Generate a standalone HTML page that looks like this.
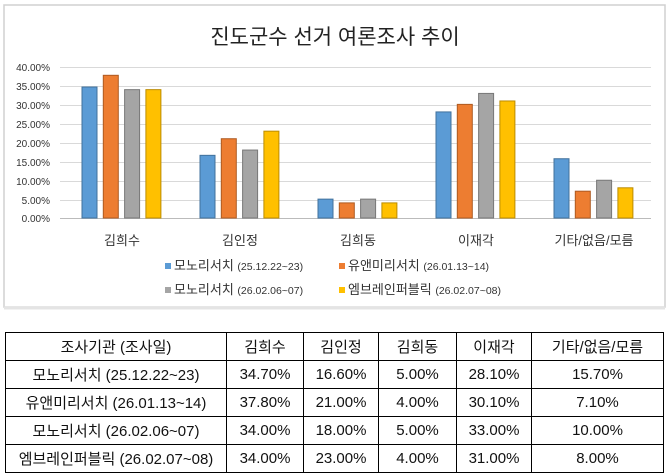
<!DOCTYPE html>
<html><head><meta charset="utf-8"><style>
body{margin:0;width:670px;height:473px;background:#fff;overflow:hidden;font-family:"Liberation Sans","Noto Sans CJK KR",sans-serif;}
table{position:absolute;left:5px;top:332px;border-collapse:collapse;font-size:15px;color:#111;}
td{border:1px solid #000;text-align:center;padding:0;height:27px;}
</style></head><body>
<svg width="670" height="473" style="position:absolute;left:0;top:0">
<rect x="4" y="5" width="661" height="302" fill="#fff" stroke="#d0d0d0" stroke-width="1.5"/>
<line x1="4" y1="308" x2="665" y2="308" stroke="#e4e4e4" stroke-width="3"/>
<text x="335" y="44" font-size="21" text-anchor="middle" fill="#222" font-family="Liberation Sans,Noto Sans CJK KR,sans-serif">진도군수 선거 여론조사 추이</text>
<g stroke="#d9d9d9" stroke-width="1">
<line x1="60" x2="651" y1="67.5" y2="67.5"/><line x1="60" x2="651" y1="86.5" y2="86.5"/><line x1="60" x2="651" y1="105.5" y2="105.5"/><line x1="60" x2="651" y1="124.5" y2="124.5"/><line x1="60" x2="651" y1="143.5" y2="143.5"/><line x1="60" x2="651" y1="162.5" y2="162.5"/><line x1="60" x2="651" y1="181.5" y2="181.5"/><line x1="60" x2="651" y1="200.5" y2="200.5"/><line x1="60" x2="651" y1="218.5" y2="218.5" stroke="#bbb"/>
</g>
<g font-size="10" fill="#333" text-anchor="end" font-family="Liberation Sans,sans-serif">
<text x="50" y="71">40.00%</text><text x="50" y="90">35.00%</text><text x="50" y="109">30.00%</text><text x="50" y="128">25.00%</text><text x="50" y="147">20.00%</text><text x="50" y="166">15.00%</text><text x="50" y="185">10.00%</text><text x="50" y="204">5.00%</text><text x="50" y="222">0.00%</text>
</g>
<g id="bars"></g>
<g font-size="13" fill="#333" text-anchor="middle" font-family="Liberation Sans,Noto Sans CJK KR,sans-serif">
<text x="122" y="245">김희수</text><text x="240" y="245">김인정</text><text x="358" y="245">김희동</text><text x="476" y="245">이재각</text><text x="594" y="245">기타/없음/모름</text>
</g>
<g font-size="13" fill="#333" font-family="Liberation Sans,Noto Sans CJK KR,sans-serif">
<rect x="165" y="263" width="6" height="6" fill="#5b9bd5"/><text x="174" y="270">모노리서치 <tspan font-size="10.5">(25.12.22~23)</tspan></text>
<rect x="339" y="263" width="6" height="6" fill="#ed7d31"/><text x="348" y="270">유앤미리서치 <tspan font-size="10.5">(26.01.13~14)</tspan></text>
<rect x="165" y="287" width="6" height="6" fill="#a5a5a5"/><text x="174" y="294">모노리서치 <tspan font-size="10.5">(26.02.06~07)</tspan></text>
<rect x="339" y="287" width="6" height="6" fill="#ffc000"/><text x="348" y="294">엠브레인퍼블릭 <tspan font-size="10.5">(26.02.07~08)</tspan></text>
</g>
</svg>
<script>
var d=[[34.7,37.8,34,34],[16.6,21,18,23],[5,4,5,4],[28.1,30.1,33,31],[15.7,7.1,10,8]];
var c=["#5b9bd5","#ed7d31","#a5a5a5","#ffc000"],s=["#41719c","#ae5a21","#787878","#bc8c00"];
var g=document.getElementById("bars"),h="";
for(var i=0;i<5;i++)for(var j=0;j<4;j++){var v=d[i][j],hh=v*151/40,x=82+i*118+j*21.3;
h+='<rect x="'+x+'" y="'+(218-hh)+'" width="15" height="'+hh+'" fill="'+c[j]+'" stroke="'+s[j]+'" stroke-width="1"/>';}
g.innerHTML=h;
</script>
<table>
<tr><td style="width:220px">조사기관 (조사일)</td><td style="width:76px">김희수</td><td style="width:74px">김인정</td><td style="width:77px">김희동</td><td style="width:74px">이재각</td><td style="width:131px">기타/없음/모름</td></tr>
<tr><td>모노리서치 (25.12.22~23)</td><td>34.70%</td><td>16.60%</td><td>5.00%</td><td>28.10%</td><td>15.70%</td></tr>
<tr><td>유앤미리서치 (26.01.13~14)</td><td>37.80%</td><td>21.00%</td><td>4.00%</td><td>30.10%</td><td>7.10%</td></tr>
<tr><td>모노리서치 (26.02.06~07)</td><td>34.00%</td><td>18.00%</td><td>5.00%</td><td>33.00%</td><td>10.00%</td></tr>
<tr><td>엠브레인퍼블릭 (26.02.07~08)</td><td>34.00%</td><td>23.00%</td><td>4.00%</td><td>31.00%</td><td>8.00%</td></tr>
</table>
</body></html>
